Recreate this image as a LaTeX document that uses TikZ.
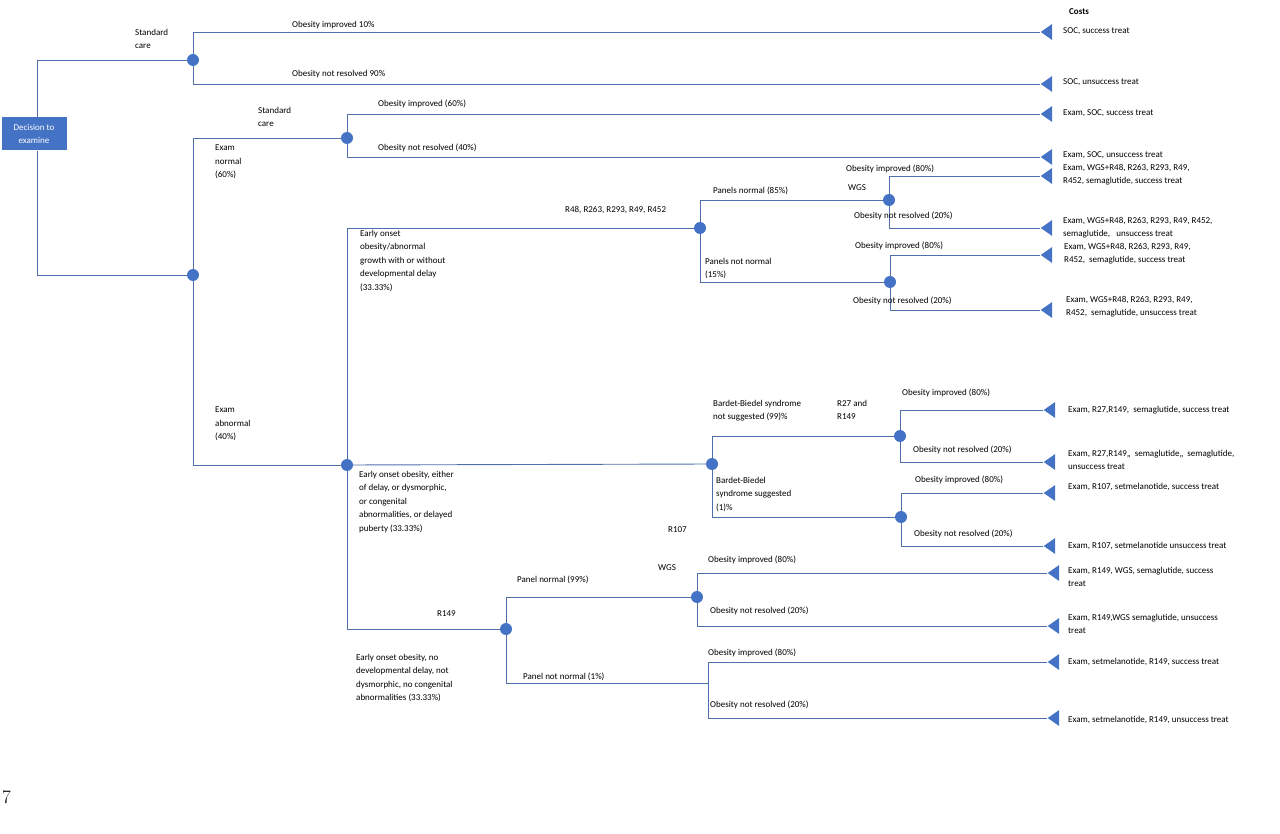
\documentclass[tikz,border=0pt]{standalone}
\usepackage{fontspec}
\setmainfont{Carlito}
\usetikzlibrary{shapes.geometric}
\definecolor{bl}{RGB}{68,114,196}
\definecolor{ln}{RGB}{80,110,170}
\begin{document}
\begin{tikzpicture}[x=1pt,y=-1pt,
  ch/.style={circle,fill=bl,inner sep=0,minimum size=12},
  tr/.style={isosceles triangle,isosceles triangle apex angle=70,shape border rotate=180,fill=bl,inner sep=0,minimum height=10,minimum width=16},
  br/.style={draw=ln,line width=0.9},
  lb/.style={font=\fontsize{9}{13.5}\selectfont,inner sep=0,anchor=west,align=left},
  lm/.style={lb,anchor=north west}]
\useasboundingbox (0,0) rectangle (1280,834);
\node[fill=bl,text=white,minimum width=65,minimum height=33,inner sep=0,align=center,font=\fontsize{9}{13.5}\selectfont] (dec) at (34,134) {Decision to\\examine};
\coordinate (d1) at (37,118); \coordinate (d2) at (37,151);
% chance nodes
\node[ch] (A) at (193,60) {};
\node[ch] (B) at (193,275) {};
\node[ch] (N) at (347,138) {};
\node[ch] (C) at (347,465) {};
\node[ch] (D) at (700,228) {};
\node[ch] (E) at (889,200) {};
\node[ch] (F) at (890,282) {};
\node[ch] (G) at (712,464) {};
\node[ch] (H) at (900,436) {};
\node[ch] (I) at (901,517) {};
\node[ch] (J) at (506,629) {};
\node[ch] (K) at (697,597) {};
\coordinate (L) at (708,683);
% terminals
\foreach \n/\x/\y in {t1/1048/32,t2/1048/84,t3/1048/114,t4/1048/157,t5/1048/176,t6/1048/228,t7/1048/255,t8/1048/310,
  t9/1051/410,t10/1051/462,t11/1051/493,t12/1051/546,t13/1055/573,t14/1055/626,t15/1055/662,t16/1055/718}
  \node[tr] (\n) at (\x,\y) {};
% branches
\draw[br] (d1) |- (A); \draw[br] (d2) |- (B);
\draw[br] (A) |- (t1.apex); \draw[br] (A) |- (t2.apex);
\draw[br] (B) |- (N); \draw[br] (B) |- (C);
\draw[br] (N) |- (t3.apex); \draw[br] (N) |- (t4.apex);
\draw[br] (C) |- (D); \draw[br] (C) -- (G); \draw[br] (C) |- (J);
\draw[br] (D) |- (E); \draw[br] (D) |- (F);
\draw[br] (E) |- (t5.apex); \draw[br] (E) |- (t6.apex);
\draw[br] (F) |- (t7.apex); \draw[br] (F) |- (t8.apex);
\draw[br] (G) |- (H); \draw[br] (G) |- (I);
\draw[br] (H) |- (t9.apex); \draw[br] (H) |- (t10.apex);
\draw[br] (I) |- (t11.apex); \draw[br] (I) |- (t12.apex);
\draw[br] (J) |- (K); \draw[br] (J) |- (L);
\draw[br] (K) |- (t13.apex); \draw[br] (K) |- (t14.apex);
\draw[br] (L) |- (t15.apex); \draw[br] (L) |- (t16.apex);
% branch labels
\node[lm] (l1) at (135,29) {Standard\\care};
\node[lb] (l2) at (292,25) {Obesity improved 10\%};
\node[lb] (l3) at (292,74) {Obesity not resolved 90\%};
\node[lm] (l4) at (258,107) {Standard\\care};
\node[lb] (l5) at (378,104) {Obesity improved (60\%)};
\node[lb] (l6) at (378,148) {Obesity not resolved (40\%)};
\node[lm] (l7) at (215,145) {Exam\\normal\\(60\%)};
\node[lm] (l8) at (215,407) {Exam\\abnormal\\(40\%)};
\node[lm] (l9) at (360,230) {Early onset\\obesity/abnormal\\growth with or without\\developmental delay\\(33.33\%)};
\node[lb] (l10) at (565,210) {R48, R263, R293, R49, R452};
\node[lb] (l11) at (713,191) {Panels normal (85\%)};
\node[lb] (l12) at (848,188) {WGS};
\node[lm] (l13) at (705,258) {Panels not normal\\(15\%)};
\node[lb] (l14) at (846,169) {Obesity improved (80\%)};
\node[lb] (l15) at (854,216) {Obesity not resolved (20\%)};
\node[lb] (l16) at (855,246) {Obesity improved (80\%)};
\node[lb] (l17) at (853,301) {Obesity not resolved (20\%)};
\node[lm] (l18) at (359,471) {Early onset obesity, either\\of delay, or dysmorphic,\\or congenital\\abnormalities, or delayed\\puberty (33.33\%)};
\node[lm] (l19) at (713,400) {Bardet-Biedel syndrome\\not suggested (99)\%};
\node[lm] (l20) at (837,400) {R27 and\\R149};
\node[lb] (l21) at (902,393) {Obesity improved (80\%)};
\node[lb] (l22) at (913,450) {Obesity not resolved (20\%)};
\node[lm] (l23) at (716,477) {Bardet-Biedel\\syndrome suggested\\(1)\%};
\node[lb] (l24) at (668,530) {R107};
\node[lb] (l25) at (915,480) {Obesity improved (80\%)};
\node[lb] (l26) at (914,534) {Obesity not resolved (20\%)};
\node[lb] (l27) at (437,614) {R149};
\node[lm] (l28) at (356,654) {Early onset obesity, no\\developmental delay, not\\dysmorphic, no congenital\\abnormalities (33.33\%)};
\node[lb] (l29) at (517,580) {Panel normal (99\%)};
\node[lb] (l30) at (658,568) {WGS};
\node[lb] (l31) at (523,677) {Panel not normal (1\%)};
\node[lb] (l32) at (708,560) {Obesity improved (80\%)};
\node[lb] (l33) at (710,611) {Obesity not resolved (20\%)};
\node[lb] (l34) at (708,653) {Obesity improved (80\%)};
\node[lb] (l35) at (710,705) {Obesity not resolved (20\%)};
% costs
\node[lb,font=\bfseries\fontsize{9}{13.5}\selectfont] (costs) at (1069,12) {Costs};
\node[lb] (c1) at (1063,31) {SOC, success treat};
\node[lb] (c2) at (1063,82) {SOC, unsuccess treat};
\node[lb] (c3) at (1063,113) {Exam, SOC, success treat};
\node[lb] (c4) at (1063,155) {Exam, SOC, unsuccess treat};
\node[lm] (c5) at (1063,164) {Exam, WGS+R48, R263, R293, R49,\\R452, semaglutide, success treat};
\node[lm] (c6) at (1063,217) {Exam, WGS+R48, R263, R293, R49, R452,\\semaglutide,\ \ \ unsuccess treat};
\node[lm] (c7) at (1064,243) {Exam, WGS+R48, R263, R293, R49,\\R452,\ \ semaglutide, success treat};
\node[lm] (c8) at (1066,296) {Exam, WGS+R48, R263, R293, R49,\\R452,\ \ semaglutide, unsuccess treat};
\node[lb] (c9) at (1068,410) {Exam, R27,R149,\ \ semaglutide, success treat};
\node[lm] (c10) at (1068,450) {Exam, R27,R149,,\ \ semaglutide,,\ \ semaglutide,\\unsuccess treat};
\node[lb] (c11) at (1068,487) {Exam, R107, setmelanotide, success treat};
\node[lb] (c12) at (1068,546) {Exam, R107, setmelanotide unsuccess treat};
\node[lm] (c13) at (1068,567) {Exam, R149, WGS, semaglutide, success\\treat};
\node[lm] (c14) at (1068,614) {Exam, R149,WGS semaglutide, unsuccess\\treat};
\node[lb] (c15) at (1068,662) {Exam, setmelanotide, R149, success treat};
\node[lb] (c16) at (1068,720) {Exam, setmelanotide, R149, unsuccess treat};
\node[anchor=west,inner sep=0,font=\fontspec{Latin Modern Roman}\fontsize{19}{20}\selectfont] (pg) at (2,797) {7};
\end{tikzpicture}
\end{document}
